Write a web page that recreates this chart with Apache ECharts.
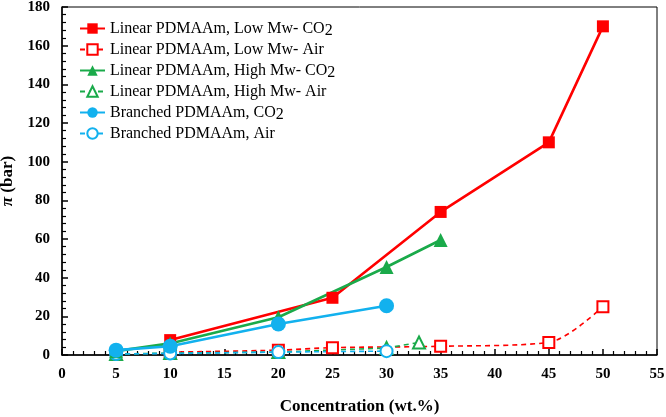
<!DOCTYPE html>
<html><head><meta charset="utf-8">
<script src="https://cdn.jsdelivr.net/npm/echarts@6/dist/echarts.min.js"></script>
<style>html,body{margin:0;padding:0;background:#fff}#c{width:666px;height:417px}</style>
</head><body><div id="c"></div>
<script>
const seriesNames = [
  'Linear PDMAAm, Low Mw- CO{sub|2}',
  'Linear PDMAAm, Low Mw- Air',
  'Linear PDMAAm, High Mw- CO{sub|2}',
  'Linear PDMAAm, High Mw- Air',
  'Branched PDMAAm, CO{sub|2}',
  'Branched PDMAAm, Air'
];
const lowCO2X = [10, 25, 35, 45, 50];
const lowCO2Y = [7.7, 29.6, 74, 110, 170];
const lowAirX = [10, 20, 25, 35, 45, 50];
const lowAirY = [1.5, 2.5, 3.8, 4.5, 6.5, 25];
const highCO2X = [5, 10, 20, 30, 35];
const highCO2Y = [2, 6, 19.5, 45.5, 59.5];
const highAirX = [5, 10, 20, 30, 33];
const highAirY = [0.5, 1, 1.5, 3.6, 6.5];
const brCO2X = [5, 10, 20, 30];
const brCO2Y = [2.5, 4.5, 16, 25.5];
const brAirX = [5, 10, 20, 30];
const brAirY = [0.5, 0.8, 1.5, 2];
const xTicks = [0, 5, 10, 15, 20, 25, 30, 35, 40, 45, 50, 55];
const yTicks = [0, 20, 40, 60, 80, 100, 120, 140, 160, 180];

const pair = (xs, ys) => xs.map((x, i) => [x, ys[i]]);
const RED = '#ff0000', GREEN = '#1aaa4a', BLUE = '#12b1ee';
const serif = 'Liberation Serif';

function mk(name, xs, ys, color, symbol, dashed, size, smooth) {
  return {
    name: name, type: 'line', data: pair(xs, ys),
    symbol: symbol, symbolSize: size, smooth: smooth || false,
    itemStyle: { color: color, borderWidth: symbol.startsWith('empty') ? 1.6 : 0 },
    lineStyle: { color: color, width: dashed ? 1.6 : 2.6, type: dashed ? [5, 4] : 'solid' },
    emphasis: { disabled: true }, z: dashed ? 3 : 4
  };
}

const chart = echarts.init(document.getElementById('c'), null, { renderer: 'canvas' });
const labelStyle = () => ({ fontFamily: serif, fontWeight: 'bold', fontSize: 15, color: '#000', margin: 12 });
const xMin = xTicks[0], xMax = xTicks[xTicks.length - 1];
const yMin = yTicks[0], yMax = yTicks[yTicks.length - 1];
chart.setOption({
  animation: false,
  grid: { left: 62, right: 9, top: 7, bottom: 62, containLabel: false, outerBoundsMode: 'none',
    show: true, borderColor: '#000', borderWidth: 1 },
  legend: {
    left: 79, top: 18, padding: 0, orient: 'vertical', itemGap: 0, itemWidth: 25, itemHeight: 13,
    data: seriesNames,
    textStyle: { fontFamily: serif, fontSize: 16, color: '#000', lineHeight: 21,
      rich: { sub: { fontFamily: serif, fontSize: 16, lineHeight: 10, verticalAlign: 'bottom', color: '#000' } } },
    formatter: n => n
  },
  xAxis: {
    type: 'value', min: xMin, max: xMax, interval: 5,
    name: 'Concentration (wt.%)', nameLocation: 'middle', nameGap: 43,
    nameTextStyle: { fontFamily: serif, fontWeight: 'bold', fontSize: 17, color: '#000' },
    axisLine: { show: true, lineStyle: { color: '#000', width: 1.5 } },
    axisTick: { show: true, inside: true, length: 6, lineStyle: { color: '#000', width: 1.5 } },
    minorTick: { show: true, splitNumber: 5, length: 4, lineStyle: { color: '#000', width: 1.2 } },
    axisLabel: labelStyle(),
    splitLine: { show: false }
  },
  yAxis: {
    type: 'value', min: yMin, max: yMax, interval: 20,
    name: '{pi|π} (bar)', nameLocation: 'middle', nameGap: 38, nameRotate: 90,
    nameTextStyle: { fontFamily: serif, fontWeight: 'bold', fontSize: 17, color: '#000',
      rich: { pi: { fontFamily: serif, fontWeight: 'bold', fontStyle: 'italic', fontSize: 17, color: '#000' } } },
    axisLine: { show: true, lineStyle: { color: '#000', width: 1.5 } },
    axisTick: { show: true, inside: true, length: 6, lineStyle: { color: '#000', width: 1.5 } },
    minorTick: { show: true, splitNumber: 5, length: 4, lineStyle: { color: '#000', width: 1.2 } },
    axisLabel: labelStyle(),
    splitLine: { show: false }
  },
  series: [
    mk(seriesNames[0], lowCO2X, lowCO2Y, RED, 'rect', false, 12),
    mk(seriesNames[1], lowAirX, lowAirY, RED, 'emptyRect', true, 11, 0.3),
    mk(seriesNames[2], highCO2X, highCO2Y, GREEN, 'triangle', false, 14),
    mk(seriesNames[3], highAirX, highAirY, GREEN, 'emptyTriangle', true, 12),
    mk(seriesNames[4], brCO2X, brCO2Y, BLUE, 'circle', false, 15),
    mk(seriesNames[5], brAirX, brAirY, BLUE, 'emptyCircle', true, 12)
  ]
});
</script></body></html>
